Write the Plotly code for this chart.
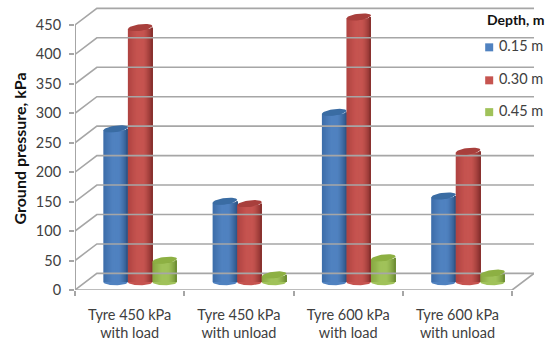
import math
import plotly.graph_objects as go

categories = ["Tyre 450 kPa<br>with load", "Tyre 450 kPa<br>with unload", "Tyre 600 kPa<br>with load", "Tyre 600 kPa<br>with unload"]
depth_015 = [260, 137, 288, 146]
depth_030 = [432, 133, 450, 222]
depth_045 = [37, 12, 41, 15]
series_names = ["0.15 m", "0.30 m", "0.45 m"]
y_ticks = [0, 50, 100, 150, 200, 250, 300, 350, 400, 450]

series_values = [depth_015, depth_030, depth_045]
# (left edge, highlight, right edge) and cap colour
shades = [((62, 110, 170), (80, 130, 192), (42, 80, 128), "#3a6ca3"),
          ((176, 68, 66), (198, 84, 80), (128, 44, 42), "#a83f3c"),
          ((136, 168, 66), (160, 194, 90), (104, 136, 48), "#8db043")]

X0, DX_DEPTH = -0.5, 0.2
X1 = 3.7
DY_BACK = 28.2
BASE = 13.6
BAR_W = 0.2245
CLUSTER_SHIFT = 0.096
H = 5.5
TILT = 2.5
N = 24
GRID = "#a6a6a6"
FONT = "Lato"
TXT = "#404040"

fig = go.Figure()

for v in y_ticks:
    fig.add_trace(go.Scatter(x=[X0, X0 + DX_DEPTH, X1], y=[v, v + DY_BACK, v + DY_BACK], mode="lines",
                             line=dict(color=GRID, width=1.6), hoverinfo="skip", showlegend=False))
fig.add_trace(go.Scatter(x=[X0, X0], y=[0, 450], mode="lines", line=dict(color=GRID, width=2),
                         hoverinfo="skip", showlegend=False, cliponaxis=False))
fig.add_trace(go.Scatter(x=[X0, X1 - DX_DEPTH, X1], y=[0, 0, DY_BACK], mode="lines", line=dict(color=GRID, width=1.6),
                         hoverinfo="skip", showlegend=False, cliponaxis=False))


def mix(a, b, t):
    return tuple(round(a[i] + (b[i] - a[i]) * t) for i in range(3))


def shade(s, u):
    left, mid, right, _ = s
    if u < 0.35:
        return mix(left, mid, u / 0.35)
    if u < 0.6:
        return mid
    return mix(mid, right, ((u - 0.6) / 0.4) ** 1.4)


for si, (vals, name, s) in enumerate(zip(series_values, series_names, shades)):
    off = (si - 1) * BAR_W + CLUSTER_SHIFT
    for k in range(N):
        u = k / N
        t = 2 * u - 1
        centre = off + (u + 1) / 2 * BAR_W - BAR_W / 2
        width = (1 - u) * BAR_W
        lower = TILT * t - H * math.sqrt(max(0, 1 - t * t))
        r, g, b = shade(s, u)
        fig.add_trace(go.Bar(x=[i + centre for i in range(len(vals))], y=[v + lower for v in vals],
                             base=BASE, width=width,
                             marker=dict(color=f"rgb({r},{g},{b})", line=dict(width=0)),
                             name=name, showlegend=False, hoverinfo="skip"))
    th = [2 * math.pi * j / 40 for j in range(41)]
    low = [math.pi + math.pi * j / 20 for j in range(21)]
    for i, v in enumerate(vals):
        mr, mg, mb = shade(s, 0.5)
        fig.add_trace(go.Scatter(
            x=[i + off + BAR_W / 2 * math.cos(a) for a in low],
            y=[BASE + H * math.sin(a) for a in low],
            mode="lines", fill="toself", fillcolor=f"rgb({mr},{mg},{mb})", line=dict(width=0, color=s[3]),
            hoverinfo="skip", showlegend=False))
        fig.add_trace(go.Scatter(
            x=[i + off + BAR_W / 2 * math.cos(a) for a in th],
            y=[BASE + v + TILT * math.cos(a) + H * math.sin(a) for a in th],
            mode="lines", fill="toself", fillcolor=s[3], line=dict(width=0, color=s[3]),
            hoverinfo="skip", showlegend=False))

KEY_X = 3.29
KEY_Y = [412, 356, 302]
for name, s, ky in zip(series_names, shades, KEY_Y):
    r, g, b = s[1]
    fig.add_trace(go.Scatter(x=[KEY_X], y=[ky], mode="markers+text", text=["\u00a0" + name], textposition="middle right",
                             textfont=dict(family=FONT, size=14.5, color=TXT), cliponaxis=False,
                             marker=dict(symbol="square", size=8, color=f"rgb({r},{g},{b})"),
                             name=name, showlegend=False))

fig.add_annotation(x=3.53, xref="x", y=460, yref="y", text="<b>Depth, m</b>",
                   showarrow=False, font=dict(family=FONT, size=14, color="#111111"))

fig.update_layout(
    width=550, height=345, margin=dict(l=75, r=16, t=7, b=55), autosize=False,
    paper_bgcolor="white", plot_bgcolor="white", barmode="overlay", showlegend=False,
    font=dict(family=FONT, size=13, color=TXT),
    xaxis=dict(range=[X0, X1], tickmode="array", tickvals=list(range(len(categories))), ticktext=categories,
               showgrid=False, zeroline=False, showline=False, ticks="", tickangle=0, ticklabelstandoff=14,
               automargin=False, tickfont=dict(family=FONT, size=14.5, color=TXT),
               minor=dict(tickmode="array", tickvals=[-0.5, 0.5, 1.5, 2.5, 3.5], ticks="outside", ticklen=5,
                          tickcolor=GRID, tickwidth=1.5, showgrid=False)),
    yaxis=dict(range=[0, 480.5], tickmode="array", tickvals=y_ticks, showgrid=False, zeroline=False, showline=False,
               ticks="outside", ticklen=5, tickcolor=GRID, tickwidth=1.5, automargin=False, ticklabelstandoff=5,
               tickfont=dict(family=FONT, size=14.5, color=TXT),
               title=dict(text="<b>Ground pressure, kPa</b>", font=dict(family=FONT, size=16, color="#111111"), standoff=5)),
)

fig.write_html("out.html", config={"displayModeBar": False},
               post_script="document.body.style.margin='0';document.documentElement.style.overflow='hidden';")
